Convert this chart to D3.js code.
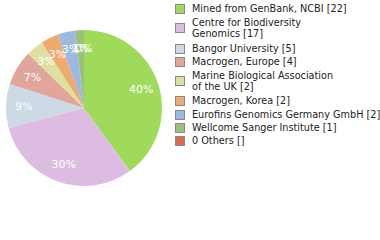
<!DOCTYPE html>
<html>
<head>
<meta charset="utf-8">
<script src="https://cdn.jsdelivr.net/npm/d3@7"></script>
<style>
  body { margin: 0; background: #fff; }
  svg { display: block; font-family: "DejaVu Sans", sans-serif; }
</style>
</head>
<body>
<div id="chart"></div>
<script>
const width = 380;
const height = 240;

// data
const labels = [
  "Mined from GenBank, NCBI [22]",
  "Centre for Biodiversity|Genomics [17]",
  "Bangor University [5]",
  "Macrogen, Europe [4]",
  "Marine Biological Association|of the UK [2]",
  "Macrogen, Korea [2]",
  "Eurofins Genomics Germany GmbH [2]",
  "Wellcome Sanger Institute [1]",
  "0 Others []"
];
const values = [22, 17, 5, 4, 2, 2, 2, 1, 0];
const colors = ["#a0da5b", "#dcbce0", "#cdd9e5", "#e0a69c", "#dfe0a0",
  "#eeaa6f", "#9db9e0", "#9dc07b", "#d9694f"];

const total = d3.sum(values);

let svg = d3.select("#chart")
  .append("svg")
  .attr("width", width)
  .attr("height", height)
  .attr("viewBox", [0, 0, width, height]);

// pie
const cx = 84, cy = 108, r = 78;
const pie = d3.pie().sort(null).value(d => d);
const arc = d3.arc().innerRadius(0).outerRadius(r);
const labelArc = d3.arc().innerRadius(r * 0.77).outerRadius(r * 0.77);

let g = svg.append("g").attr("transform", "translate(" + cx + "," + cy + ")");
const arcs = pie(values);

g.selectAll("path")
  .data(arcs)
  .enter()
  .append("path")
  .attr("d", arc)
  .attr("fill", (d, i) => colors[i]);

g.selectAll("text")
  .data(arcs)
  .enter()
  .append("text")
  .attr("transform", d => "translate(" + labelArc.centroid(d) + ")")
  .attr("text-anchor", "middle")
  .attr("dy", "0.35em")
  .attr("fill", "#fff")
  .attr("font-size", 11)
  .text(d => Math.floor(d.data / total * 100) + "%");

// legend
const rowY = [9, 28, 49, 62, 81, 101, 115, 128, 141];
let lg = svg.append("g");
labels.forEach((lab, i) => {
  const lines = lab.split("|");
  lg.append("rect")
    .attr("x", 175.5)
    .attr("y", rowY[i] - 4.5)
    .attr("width", 9)
    .attr("height", 9)
    .attr("fill", colors[i])
    .attr("stroke", "#888")
    .attr("stroke-width", 1);
  const t = lg.append("text")
    .attr("x", 192)
    .attr("font-size", 9.7)
    .attr("fill", "#222");
  lines.forEach((ln, j) => {
    const off = lines.length === 1 ? 0 : (j === 0 ? -5.5 : 6);
    t.append("tspan")
      .attr("x", 192)
      .attr("y", rowY[i] + off)
      .attr("dy", "0.35em")
      .text(ln);
  });
});
</script>
</body>
</html>
